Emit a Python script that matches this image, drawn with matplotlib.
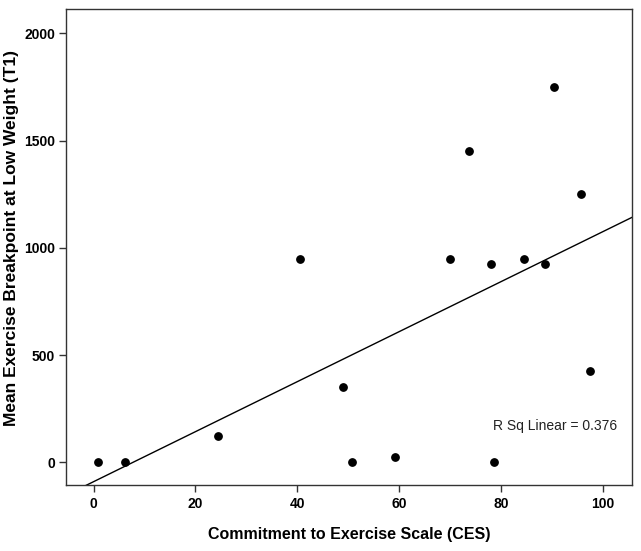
import numpy as np
import matplotlib
matplotlib.use('Agg')
import matplotlib.pyplot as plt

plt.rcParams['font.family'] = ['Liberation Sans', 'DejaVu Sans']

# values
ces = [0.9, 6.1, 24.4, 40.6, 49.0, 50.8, 59.1, 69.9, 73.6, 78.0, 78.5, 84.4, 88.5, 90.4, 95.6, 97.5]
breakpoint_t1 = [0, 0, 125, 950, 350, 0, 25, 950, 1450, 925, 0, 950, 925, 1750, 1250, 425]
x_ticks = [0, 20, 40, 60, 80, 100]
y_ticks = [0, 500, 1000, 1500, 2000]
r2_label = 'R Sq Linear = 0.376'

fig = plt.figure(figsize=(6.41, 5.51), dpi=100)
ax = fig.add_axes([0.103, 0.119, 0.8825, 0.864])

ax.scatter(ces, breakpoint_t1, s=28, color='black', zorder=3)

xlim = (-5.4, 105.6)
ylim = (-107, 2111)
b, a = np.polyfit(ces, breakpoint_t1, 1)
xl = np.array(xlim)
ax.plot(xl, a + b * xl, color='black', lw=1.0)

ax.set_xlim(*xlim)
ax.set_ylim(*ylim)
ax.set_xticks(x_ticks)
ax.set_yticks(y_ticks)
for lab in ax.get_xticklabels() + ax.get_yticklabels():
    lab.set_fontweight('bold')
ax.tick_params(labelsize=10, length=5, width=1, direction='out', color='#333333', pad=3)

for sp in ax.spines.values():
    sp.set_color('#333333')
    sp.set_linewidth(1.0)

ax.set_xlabel('Commitment to Exercise Scale (CES)', fontsize=11.5, fontweight='bold', labelpad=12)
ax.set_ylabel('Mean Exercise Breakpoint at Low Weight (T1)', fontsize=12.5, fontweight='bold')
ax.yaxis.set_label_coords(-0.084, 0.52)

ax.text(0.974, 0.125, r2_label, transform=ax.transAxes, ha='right', va='center', fontsize=10, color='#222222')

fig.savefig('out.png', dpi=100)
